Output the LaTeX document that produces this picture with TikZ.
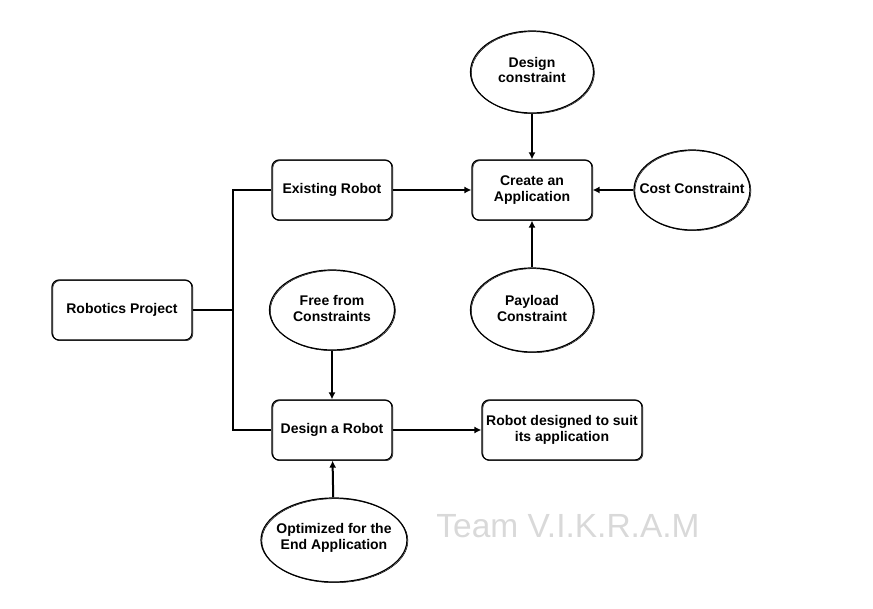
\documentclass[tikz,border=0pt]{standalone}
\usepackage{fontspec}
\setmainfont{Liberation Sans}
\usetikzlibrary{shapes.geometric,arrows.meta}
\definecolor{wm}{HTML}{D9D9D9}
\tikzset{
  lbl/.style={font=\fontsize{14}{16}\selectfont\bfseries, align=center, inner sep=0pt},
  sk/.style={postaction={draw,line width=0.5pt,transform canvas={xshift=0.9pt,yshift=-0.7pt}}},
  boxn/.style={lbl, draw, line width=1.2pt, rounded corners=7pt, minimum height=60pt, sk},
  elln/.style={draw, line width=1.2pt, ellipse, inner sep=0pt, sk},
  ctext/.style={label={[lbl, yshift=2pt]center:#1}},
  con/.style={line width=2pt},
  arr/.style={con, -{Latex[length=7pt,width=7pt]}}
}
\begin{document}
\begin{tikzpicture}[x=1pt,y=-1pt]
\useasboundingbox (0,0) rectangle (873,609);
\node[boxn, minimum width=140pt] (rp) at (122,310) {Robotics Project};
\node[boxn, minimum width=120pt] (er) at (332,190) {Existing Robot};
\node[boxn, minimum width=120pt] (dr) at (332,430) {Design a Robot};
\node[boxn, minimum width=120pt] (ca) at (532,190) {Create an\\Application};
\node[boxn, minimum width=160pt] (rd) at (562,430) {Robot designed to suit\\its application};
\node[elln, minimum width=123pt, minimum height=82pt, ctext={Design\\constraint}] (dc) at (532,72) {};
\node[elln, minimum width=116pt, minimum height=80pt, ctext={Cost Constraint}] (cc) at (692,190) {};
\node[elln, minimum width=123pt, minimum height=84pt, ctext={Payload\\Constraint}] (pc) at (532,310) {};
\node[elln, minimum width=125pt, minimum height=80pt, ctext={Free from\\Constraints}] (ff) at (332,310) {};
\node[elln, minimum width=146pt, minimum height=84pt, ctext={Optimized for the\\End Application}] (oe) at (334,540) {};
\node[font=\fontsize{33.5}{38}\selectfont, text=wm, inner sep=0pt] (tv) at (568,526) {Team V.I.K.R.A.M};
\draw[con] (rp.east) -- ++(40,0) |- (er.west);
\draw[con] (rp.east) -- ++(40,0) |- (dr.west);
\draw[arr] (er) -- (ca);
\draw[arr] (dc) -- (ca);
\draw[arr] (cc) -- (ca);
\draw[arr] (pc) -- (ca);
\draw[arr] (ff) -- (dr);
\draw[arr] (oe) -- (dr);
\draw[arr] (dr) -- (rd);
\end{tikzpicture}
\end{document}
